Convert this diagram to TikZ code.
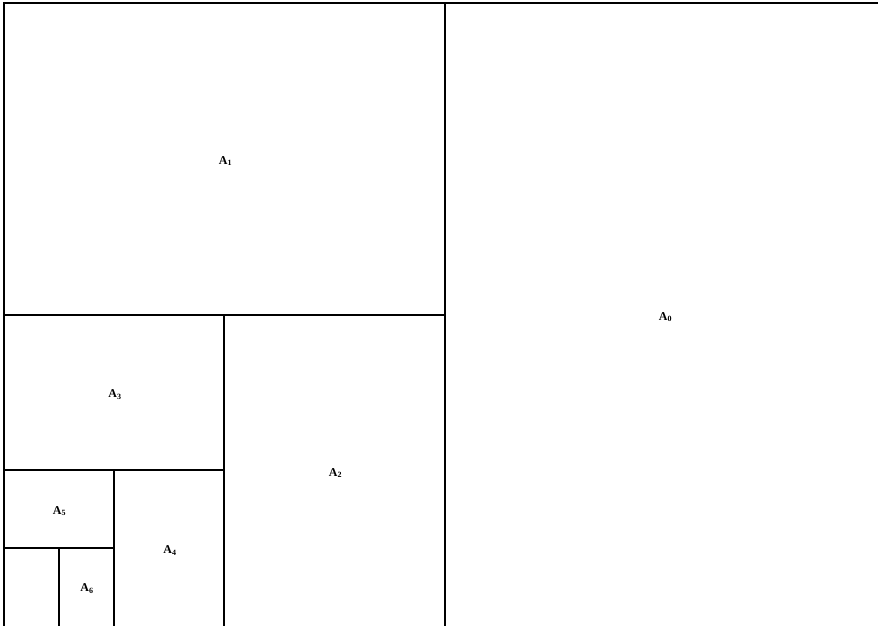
\documentclass[tikz,border=0pt]{standalone}
\usepackage{tikz}
\usepackage{fontspec}
\setmainfont{Liberation Serif}

\begin{document}
\begin{tikzpicture}[x=1pt,y=-1pt,line width=1.6pt]
\tikzset{sheetlabel/.style={font=\fontsize{12}{14}\selectfont\bfseries,inner sep=1pt}}
\useasboundingbox (0,0) rectangle (878,625);\clip (0,0) rectangle (878,625);
% the sheet and its halvings
\coordinate (tl) at (4,3);\coordinate (br) at (886,627);
\draw (tl) rectangle (br);
\draw (445,3)--(445,627);\draw (4,315)--(445,315);
\draw (224,315)--(224,627);\draw (4,470)--(224,470);
\draw (114,470)--(114,627);\draw (4,548)--(114,548);
\draw (59,548)--(59,627);
\foreach \n/\x/\y in {0/665.5/317,1/225.5/161,2/335.5/473,3/115/394.5,4/170/550.5,5/59.5/511,6/87/588.5}{
\node[sheetlabel] (a\n) at (\x,\y) {A\textsubscript{\n}};}
\end{tikzpicture}
\end{document}
